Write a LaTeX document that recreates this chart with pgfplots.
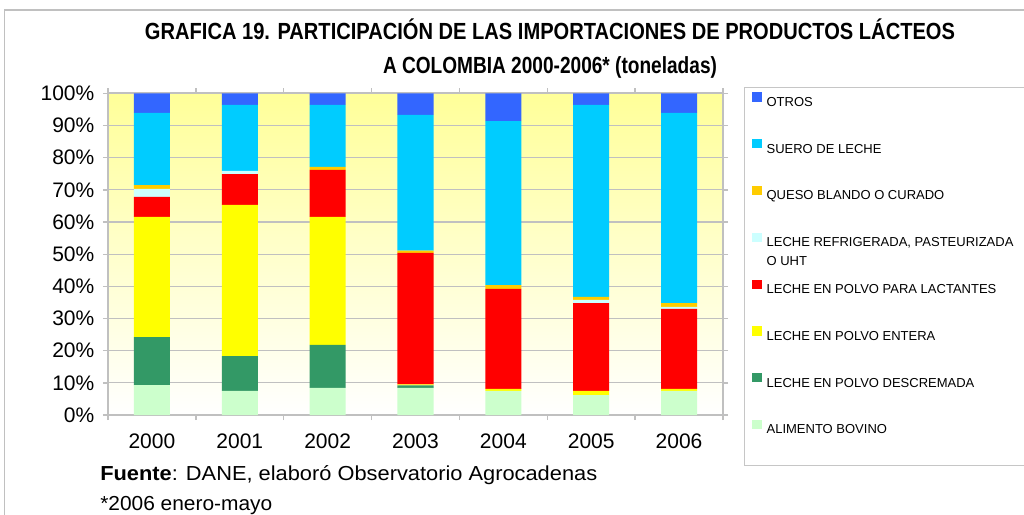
\documentclass[border=0pt]{standalone}
\usepackage{pgfplots}
\pgfplotsset{compat=1.18}
\usepackage{pgfplotstable}
\usepackage{fontspec}
\setmainfont{Liberation Sans}
\usepackage{graphicx}
\definecolor{cOtros}{RGB}{51,102,255}
\definecolor{cSuero}{RGB}{0,204,255}
\definecolor{cQueso}{RGB}{255,204,0}
\definecolor{cRefri}{RGB}{204,255,255}
\definecolor{cLact}{RGB}{255,0,0}
\definecolor{cEnt}{RGB}{255,255,0}
\definecolor{cDesc}{RGB}{51,153,102}
\definecolor{cBov}{RGB}{204,255,204}
\definecolor{cGrid}{RGB}{192,192,192}
\definecolor{cBgTop}{RGB}{255,255,153}
\definecolor{cBgMid}{RGB}{255,255,205}

\pgfplotstableread{
x bov desc ent lact refri queso suero otros
0 9.3 14.9 37.4 6.2 2.5 1.2 22.4 6.1
1 7.5 10.8 47.0 9.6 1.0 0.0 20.5 3.6
2 8.4 13.4 39.8 14.6 0.0 0.9 19.3 3.6
3 8.4 0.8 0.3 40.9 0.0 0.7 42.2 6.7
4 7.5 0.0 0.6 31.1 0.0 1.2 51.0 8.6
5 6.2 0.0 1.3 27.3 1.0 0.9 59.7 3.6
6 7.5 0.0 0.6 24.9 0.6 1.2 59.1 6.1
}\datatable

\pgfplotsset{
  lsq/.style={legend image code/.code={\fill[##1,draw=none] (0pt,0pt) rectangle (7pt,7pt);}},
}

\begin{document}
\begin{tikzpicture}
\useasboundingbox (0pt,0pt) rectangle (768pt,-385.5pt);
\draw[cGrid, line width=1.2pt] (3.5pt,-7.5pt) rectangle (820pt,-420pt);
\node at (412.5pt,-22pt) {\resizebox{607.5pt}{\height}{\fontsize{17.5}{20}\selectfont\bfseries GRAFICA 19. PARTICIPACIÓN DE LAS IMPORTACIONES DE PRODUCTOS LÁCTEOS}};
\node at (412.5pt,-50.5pt) {\resizebox{250.5pt}{\height}{\fontsize{17.5}{20}\selectfont\bfseries A COLOMBIA 2000-2006* (toneladas)}};
\begin{axis}[
  at={(81pt,-311.25pt)}, anchor=south west,
  scale only axis, width=461.25pt, height=241.25pt,
  ybar stacked, bar width=27pt,
  xmin=-0.5, xmax=6.5, ymin=0, ymax=100,
  xtick={0,1,2,3,4,5,6},
  xticklabels={2000,2001,2002,2003,2004,2005,2006},
  minor xtick={-0.5,0.5,1.5,2.5,3.5,4.5,5.5,6.5},
  ytick={0,10,...,100},
  yticklabel={\pgfmathprintnumber{\tick}\%},
  /pgf/number format/assume math mode=true,
  tick align=outside,
  major tick length=3.75pt, minor tick length=3.75pt,
  major x tick style={draw=none},
  tick style={cGrid, line width=1pt},
  ticklabel style={font=\fontsize{15.75}{18}\selectfont},
  xticklabel style={yshift=-7pt},
  yticklabel style={xshift=-3pt},
  ymajorgrids, major grid style={cGrid, line width=0.9pt},
  axis line style={cGrid, line width=1.5pt},
  axis background/.style={shade, top color=cBgTop, middle color=cBgMid, bottom color=white},
  legend style={at={(1.0472,1.004)}, anchor=north west, draw=none, fill=none,
    font=\fontsize{9.75}{11.7}\selectfont, inner sep=0pt, row sep=24.6pt,
    nodes={inner sep=0pt, text height=7pt, text depth=0pt},
    /tikz/every odd column/.append style={column sep=3.75pt}},
  legend cell align=left,
  reverse legend,
]
\addplot[fill=cBov, draw=none, lsq] table[x=x,y=bov]{\datatable};
\addlegendentry{ALIMENTO BOVINO}
\addplot[fill=cDesc, draw=none, lsq] table[x=x,y=desc]{\datatable};
\addlegendentry{LECHE EN POLVO DESCREMADA}
\addplot[fill=cEnt, draw=none, lsq] table[x=x,y=ent]{\datatable};
\addlegendentry{LECHE EN POLVO ENTERA}
\addplot[fill=cLact, draw=none, lsq] table[x=x,y=lact]{\datatable};
\addlegendentry{LECHE EN POLVO PARA LACTANTES}
\addplot[fill=cRefri, draw=none, lsq] table[x=x,y=refri]{\datatable};
\addlegendentry{\smash{\begin{tabular}[t]{@{}l@{}}LECHE REFRIGERADA, PASTEURIZADA\\[2.5pt] O UHT\end{tabular}}}
\addplot[fill=cQueso, draw=none, lsq] table[x=x,y=queso]{\datatable};
\addlegendentry{QUESO BLANDO O CURADO}
\addplot[fill=cSuero, draw=none, lsq] table[x=x,y=suero]{\datatable};
\addlegendentry{SUERO DE LECHE}
\addplot[fill=cOtros, draw=none, lsq] table[x=x,y=otros]{\datatable};
\addlegendentry{OTROS}
\end{axis}
\draw[gray!45, line width=0.75pt] (558pt,-65.25pt) rectangle (800pt,-348.75pt);
\node[anchor=base west, inner sep=0pt] at (75pt,-360pt) {\resizebox{372.75pt}{\height}{\fontsize{15.2}{18}\selectfont\textbf{Fuente}: DANE, elaboró Observatorio Agrocadenas}};
\node[anchor=base west, inner sep=0pt] at (75pt,-382.5pt) {\resizebox{129pt}{\height}{\fontsize{15.2}{18}\selectfont *2006 enero-mayo}};
\end{tikzpicture}
\end{document}
